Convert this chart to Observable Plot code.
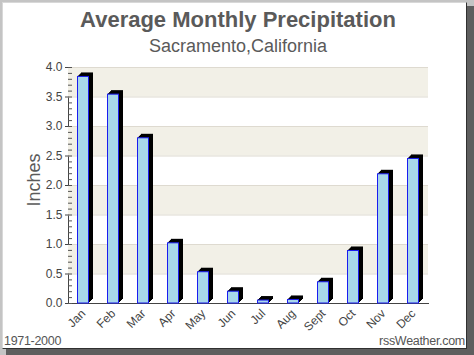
<!DOCTYPE html>
<html>
<head>
<meta charset="utf-8">
<script src="https://cdn.jsdelivr.net/npm/d3@7"></script>
<script src="https://cdn.jsdelivr.net/npm/@observablehq/plot@0.6"></script>
<style>
  html, body { margin: 0; padding: 0; background: #c4c4c4; }
  #wrap { position: relative; width: 474px; height: 355px; overflow: hidden; background: #c4c4c4; font-family: "Liberation Sans", Arial, sans-serif; }
  #shadow { position: absolute; left: 6px; top: 6px; right: 0; bottom: 0; background: #5e5e5e; }
  #panel { position: absolute; left: 2px; top: 2px; width: 463px; height: 345px; background: #fff; border-top: 1px solid #d8d8d8; border-left: 1px solid #d8d8d8; border-right: 1px solid #303030; border-bottom: 1px solid #303030; }
  #title { position: absolute; left: 0; width: 476px; top: 7px; text-align: center; font-weight: bold; font-size: 22px; color: #5a5a5a; }
  #subtitle { position: absolute; left: 0; width: 476px; top: 36px; text-align: center; font-size: 18px; color: #5a5a5a; }
  #chart { position: absolute; left: 0; top: 0; }
  #yl { position: absolute; left: 34px; top: 180px; transform: translate(-50%, -50%) rotate(-90deg); font-size: 18px; color: #5a5a5a; white-space: nowrap; }
  #period { position: absolute; left: 4px; top: 334px; font-size: 12.5px; color: #555; letter-spacing: -0.3px; }
  #credit { position: absolute; right: 9px; top: 334px; font-size: 12.5px; color: #555; letter-spacing: -0.3px; }
</style>
</head>
<body>
<div id="wrap">
  <div id="shadow"></div>
  <div id="panel"></div>
  <div id="title">Average Monthly Precipitation</div>
  <div id="subtitle">Sacramento,California</div>
  <div id="chart"></div>
  <div id="yl">Inches</div>
  <div id="period">1971-2000</div>
  <div id="credit">rssWeather.com</div>
</div>
<script>
const months = ["Jan","Feb","Mar","Apr","May","Jun","Jul","Aug","Sept","Oct","Nov","Dec"];
const precip = [3.84, 3.54, 2.80, 1.02, 0.53, 0.20, 0.05, 0.06, 0.36, 0.89, 2.19, 2.45];
const yTicks = [0, 0.5, 1.0, 1.5, 2.0, 2.5, 3.0, 3.5, 4.0];
const minorTicks = d3.range(0, 41).map(i => i / 10);

const data = months.map((m, i) => ({month: m, value: precip[i]}));
const bands = yTicks.slice(0, -1).map((lo, i) => ({lo, hi: yTicks[i + 1], shaded: i % 2 === 1}));

const W = 474, H = 355;
const mL = 68, mR = 46, mT = 67, mB = 52;
const plotH = H - mT - mB, plotW = W - mL - mR;
const depth = [1, 2, 3, 4];

const chart = Plot.plot({
  width: W, height: H,
  marginLeft: mL, marginRight: mR, marginTop: mT, marginBottom: mB,
  style: {background: "transparent", fontFamily: "'Liberation Sans', Arial, sans-serif", fontSize: "12px", color: "#444"},
  x: {type: "band", domain: months, padding: 0, label: null, tickSize: 0, tickPadding: 8, tickRotate: -45, line: true},
  y: {domain: [0, 4], ticks: yTicks, tickFormat: d3.format(".1f"), label: null, tickSize: 3, tickPadding: 3, line: true},
  marks: [
    Plot.rectY(bands.filter(b => b.shaded), {y1: "lo", y2: "hi", fill: "#f2f0e7"}),
    Plot.ruleY(yTicks.slice(1), {stroke: "#dedad0", strokeWidth: 1}),
    ...depth.map(k => Plot.barY(data, {x: "month", y: "value", fill: "#000", insetLeft: 9, insetRight: 9, dx: k, dy: -k})),
    Plot.barY(data, {x: "month", y: "value", fill: "#a8d8ea", stroke: "#1c1cf0", strokeWidth: 1, insetLeft: 9.5, insetRight: 9.5}),
    Plot.ruleY(minorTicks, {stroke: "#555", strokeWidth: 1, insetRight: plotW - 4}),
    Plot.ruleX(months, {x: "month", dx: 15, stroke: "#555", strokeWidth: 1, insetTop: plotH - 4})
  ]
});
document.getElementById("chart").appendChild(chart);
</script>
</body>
</html>
